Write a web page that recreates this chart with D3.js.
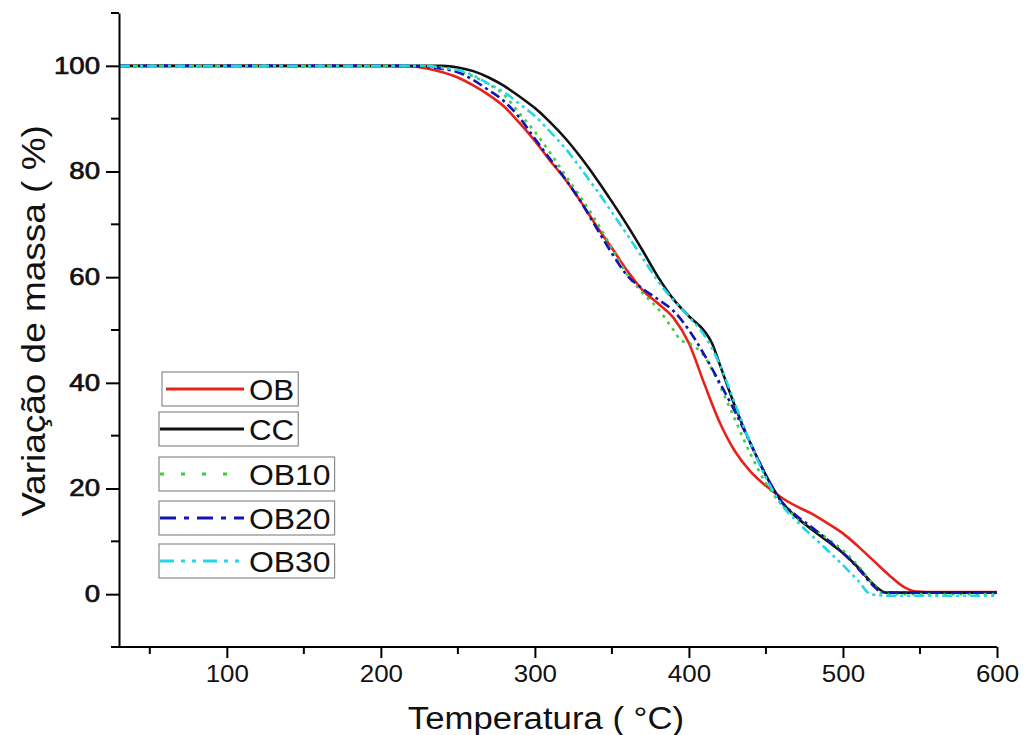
<!DOCTYPE html>
<html>
<head>
<meta charset="utf-8">
<script src="https://cdn.jsdelivr.net/npm/d3@7"></script>
<style>
  html, body { margin: 0; padding: 0; background: #fff; }
  svg { display: block; font-family: "Liberation Sans", Arial, sans-serif; }
</style>
</head>
<body>
<div id="chart"></div>
<script>
// series names, in drawing order
var seriesNames = ['OB', 'CC', 'OB10', 'OB20', 'OB30'];

// temperature (°C) / mass (%) pairs
var obTemp = [30, 200, 220, 230, 240, 250, 260, 270, 280, 290, 300, 310, 320, 330, 340, 350, 360, 370, 380, 390, 400, 410, 420, 430, 440, 450, 460, 470, 480, 490, 500, 510, 520, 530, 540, 548, 560, 580, 600];
var obMass = [100, 100, 99.9, 99.5, 98.8, 97.8, 96.3, 94.5, 92.3, 89.2, 85.8, 82, 78.4, 74.2, 69.7, 65.5, 61.2, 57.5, 55, 52.3, 47.5, 39.8, 32.5, 27, 23.2, 20.5, 18.3, 16.6, 15.2, 13.4, 11.5, 9, 6.3, 3.6, 1.3, 0.5, 0.4, 0.4, 0.4];

var ccTemp = [30, 240, 250, 260, 270, 280, 290, 300, 310, 320, 330, 340, 350, 360, 370, 380, 390, 400, 410, 415, 420, 430, 440, 450, 460, 470, 480, 490, 500, 510, 520, 528, 540, 600];
var ccMass = [100, 100, 99.7, 99, 97.8, 96.2, 94.2, 92, 89.3, 86.2, 82.6, 78.6, 74.3, 69.8, 65, 60, 55.8, 52.6, 49.8, 47.5, 43.5, 35.5, 28.5, 22.5, 17.6, 14.5, 12.2, 10, 7.8, 5, 1.8, 0.3, 0.3, 0.3];

var ob10Temp = [30, 220, 240, 250, 260, 270, 280, 290, 300, 310, 320, 330, 340, 350, 360, 370, 380, 390, 395, 400, 410, 420, 430, 440, 450, 460, 470, 480, 490, 500, 510, 520, 526, 540, 600];
var ob10Mass = [100, 100, 99.6, 99, 98, 96.5, 94.5, 91, 87.5, 83.5, 79.2, 75, 70.5, 65.5, 60.5, 57, 54, 50, 48, 47.5, 45, 39.5, 33, 26.5, 21, 17, 14.5, 12.5, 10.5, 8.3, 5.3, 1.8, 0.1, 0, 0];

var ob20Temp = [30, 220, 240, 250, 260, 270, 280, 290, 300, 310, 320, 330, 340, 350, 360, 370, 380, 390, 400, 410, 420, 430, 440, 450, 460, 470, 480, 490, 500, 510, 520, 525, 540, 600];
var ob20Mass = [100, 100, 99.4, 98.8, 97.3, 95.4, 93.3, 90.2, 86.2, 82.3, 78.5, 74.2, 69.3, 64.5, 60.3, 57.8, 55.8, 53.6, 50, 45.3, 40, 34.5, 28.5, 22.5, 17.5, 14.8, 12.6, 10.3, 7.8, 4.8, 1.5, 0.4, 0.3, 0.3];

var ob30Temp = [30, 230, 240, 250, 260, 270, 280, 290, 300, 310, 320, 330, 340, 350, 360, 370, 380, 390, 400, 410, 420, 430, 440, 450, 460, 470, 480, 490, 500, 510, 518, 530, 600];
var ob30Mass = [100, 100, 99.6, 99.2, 98.2, 96.6, 95, 92.8, 90.5, 87.5, 84.3, 80.5, 76.5, 72.3, 68, 63.6, 59.2, 55.6, 52.5, 49, 43.5, 36, 28.5, 22, 17, 13.8, 11, 8.3, 5.5, 2.5, 0, -0.3, -0.3];

var xMajorTicks = [100, 200, 300, 400, 500, 600];
var xMinorTicks = [50, 150, 250, 350, 450, 550];
var yMajorTicks = [0, 20, 40, 60, 80, 100];
var yMinorTicks = [-10, 10, 30, 50, 70, 90, 110];

var xTitle = 'Temperatura  ( °C)';
var yTitle = 'Variação de massa  ( %)';

// ---------------------------------------------------------------

var width = 1024, height = 735;

var temps = [obTemp, ccTemp, ob10Temp, ob20Temp, ob30Temp];
var masses = [obMass, ccMass, ob10Mass, ob20Mass, ob30Mass];

var series = seriesNames.map(function(name, i) {
  return {
    name: name,
    values: temps[i].map(function(t, j) { return { t: t, m: masses[i][j] }; })
  };
});

var styles = {
  'OB':   { color: '#e8211d', dash: null,           legendDash: null },
  'CC':   { color: '#111111', dash: null,           legendDash: null },
  'OB10': { color: '#3fce3f', dash: '3,5',          legendDash: '4,17' },
  'OB20': { color: '#1414b4', dash: '10,4,3,4',     legendDash: '16,8,5,8' },
  'OB30': { color: '#22d8e8', dash: '10,4,3,4,3,4', legendDash: '14,7,4,7,4,7' }
};

// the original picture is a bit wider than its fonts: stretch text sideways
var stretch = function(sel, k) {
  sel.each(function() {
    var len = this.getComputedTextLength();
    d3.select(this)
      .attr('textLength', len * k)
      .attr('lengthAdjust', 'spacingAndGlyphs');
  });
};

var svg = d3.select('#chart').append('svg')
  .attr('width', width)
  .attr('height', height);

var x = d3.scaleLinear().domain([30, 600]).range([119, 997]);
var y = d3.scaleLinear().domain([-10, 110]).range([647, 13]);

var line = d3.line()
  .x(function(d) { return x(d.t); })
  .y(function(d) { return y(d.m); })
  .curve(d3.curveMonotoneX);

// curves
svg.append('g').selectAll('path')
  .data(series)
  .enter()
  .append('path')
  .attr('d', function(d) { return line(d.values); })
  .attr('fill', 'none')
  .attr('stroke', function(d) { return styles[d.name].color; })
  .attr('stroke-width', 2.6)
  .attr('stroke-dasharray', function(d) { return styles[d.name].dash; });

// x axis
var xAxis = svg.append('g').attr('transform', 'translate(0,' + y(-10) + ')');
xAxis.call(d3.axisBottom(x).tickValues(xMajorTicks).tickSize(11).tickSizeOuter(0).tickPadding(7));
xAxis.select('.domain').attr('stroke-width', 2).attr('d', 'M' + x(30) + ',0H' + x(600));
xAxis.selectAll('.tick line').attr('stroke-width', 2);
xAxis.selectAll('.tick text')
  .attr('font-size', 24)
  .attr('font-family', '"Liberation Sans", Arial, sans-serif')
  .attr('fill', '#111')
  .call(stretch, 1.08);
xAxis.selectAll('.minor')
  .data(xMinorTicks)
  .enter()
  .append('line')
  .attr('class', 'minor')
  .attr('x1', function(d) { return x(d); })
  .attr('x2', function(d) { return x(d); })
  .attr('y1', 0)
  .attr('y2', 7)
  .attr('stroke', '#000')
  .attr('stroke-width', 2);

// y axis
var yAxis = svg.append('g').attr('transform', 'translate(' + x(30) + ',0)');
yAxis.call(d3.axisLeft(y).tickValues(yMajorTicks).tickSize(13).tickSizeOuter(0).tickPadding(6));
yAxis.select('.domain').attr('stroke-width', 2);
yAxis.selectAll('.tick line').attr('stroke-width', 2);
yAxis.selectAll('.tick text')
  .attr('font-size', 23)
  .attr('font-family', '"Liberation Sans", Arial, sans-serif')
  .attr('fill', '#111')
  .attr('stroke', '#111')
  .attr('stroke-width', 0.7)
  .call(stretch, 1.2);
yAxis.selectAll('.minor')
  .data(yMinorTicks)
  .enter()
  .append('line')
  .attr('class', 'minor')
  .attr('x1', -8)
  .attr('x2', 0)
  .attr('y1', function(d) { return y(d); })
  .attr('y2', function(d) { return y(d); })
  .attr('stroke', '#000')
  .attr('stroke-width', 2);

// axis titles
svg.append('text')
  .attr('x', 546)
  .attr('y', 729)
  .attr('text-anchor', 'middle')
  .attr('font-size', 31)
  .attr('fill', '#111')
  .text(xTitle)
  .call(stretch, 1.12);

svg.append('text')
  .attr('transform', 'translate(45,321) rotate(-90)')
  .attr('text-anchor', 'middle')
  .attr('font-size', 33)
  .attr('fill', '#111')
  .text(yTitle)
  .call(stretch, 1.12);

// legend: one framed box per series
var legend = svg.append('g');
var rowTop = [372, 412, 457, 501, 544];
series.forEach(function(s, i) {
  var st = styles[s.name];
  var left = i === 0 ? 162 : 159;
  var g = legend.append('g').attr('transform', 'translate(' + left + ',' + rowTop[i] + ')');
  var rect = g.append('rect')
    .attr('x', 0).attr('y', 0)
    .attr('height', 34)
    .attr('fill', '#fff')
    .attr('stroke', '#8a8a8a')
    .attr('stroke-width', 1.2);
  g.append('line')
    .attr('x1', i === 0 ? 4 : 1)
    .attr('x2', 85 - (i === 0 ? 3 : 0))
    .attr('y1', 17).attr('y2', 17)
    .attr('stroke', st.color)
    .attr('stroke-width', 3)
    .attr('stroke-dasharray', st.legendDash);
  var tx = 249 - left;
  var txt = g.append('text')
    .attr('x', tx)
    .attr('y', 28)
    .attr('font-size', 29)
    .attr('fill', '#111')
    .text(s.name);
  var w = txt.node().getComputedTextLength();
  var k = (i < 2 ? 1.08 : 1.1);
  txt.attr('textLength', w * k).attr('lengthAdjust', 'spacingAndGlyphs');
  rect.attr('width', tx + w * k + 4);
});
</script>
</body>
</html>
